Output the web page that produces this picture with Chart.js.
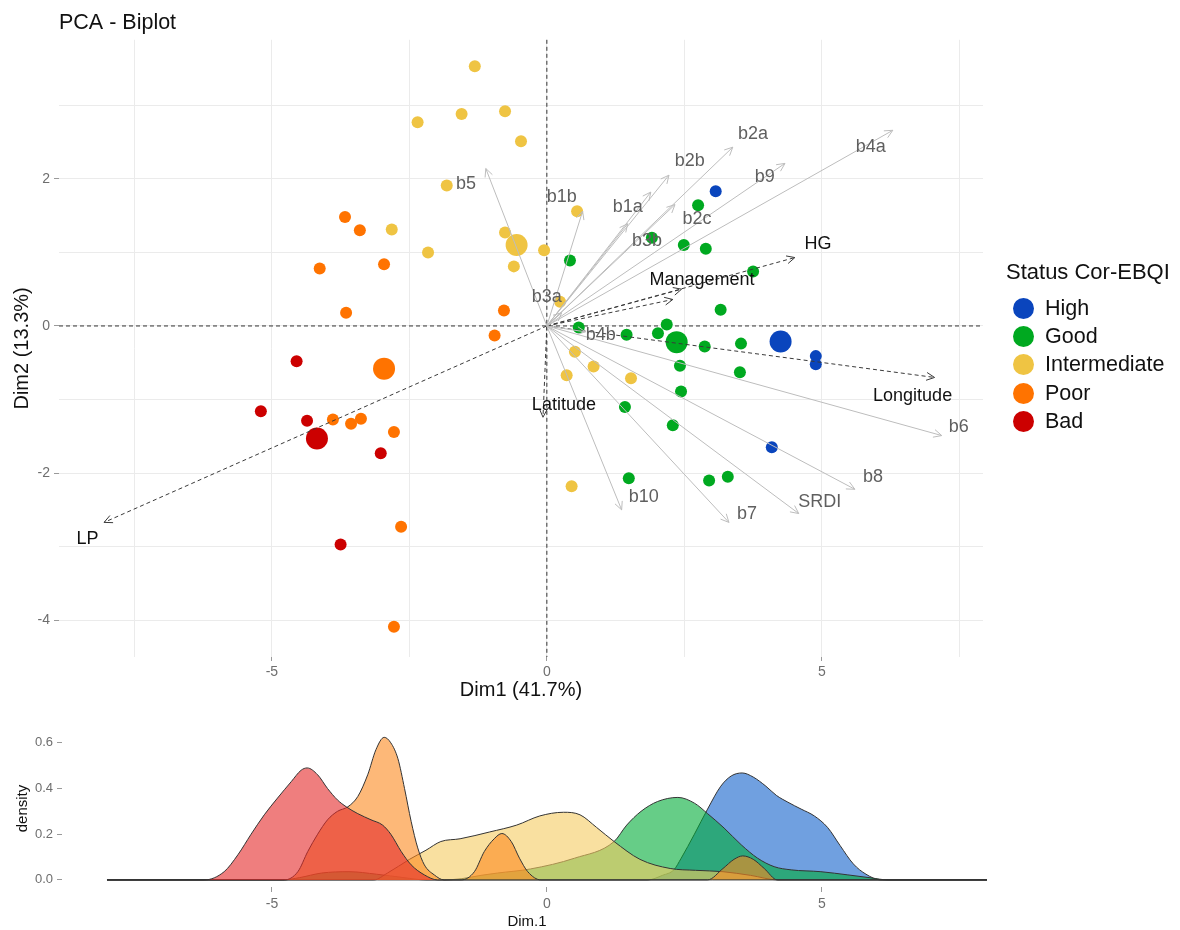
<!DOCTYPE html>
<html>
<head>
<meta charset="utf-8">
<title>PCA - Biplot</title>
<script src="https://cdn.jsdelivr.net/npm/chart.js@4.4.1/dist/chart.umd.min.js"></script>
<style>
  html, body { margin: 0; padding: 0; background: #fff; }
  body { width: 1180px; height: 930px; position: relative; overflow: hidden; font-family: "Liberation Sans", Arial, sans-serif; }
  #biplot { position: absolute; left: 0; top: 0; }
  #density { position: absolute; left: 0; top: 700px; }
  #legend { position: absolute; left: 1006px; top: 258px; color: #111; }
  #legend .ttl { font-size: 22px; line-height: 28px; margin-bottom: 8px; white-space: nowrap; }
  #legend .row { display: flex; align-items: center; height: 28.4px; font-size: 21.5px; white-space: nowrap; }
  #legend .dot { width: 21px; height: 21px; border-radius: 50%; margin: 0 11px 0 7px; }
</style>
</head>
<body>
<canvas id="biplot" width="1180" height="700"></canvas>
<canvas id="density" width="1180" height="230"></canvas>
<div id="legend"></div>
<script>
/* PCA biplot + Dim.1 density strip, redrawn with Chart.js */
const FONT = '"Liberation Sans", Arial, sans-serif';

const statusNames = ['High', 'Good', 'Intermediate', 'Poor', 'Bad'];
const statusColors = ['#0A45BD', '#00A920', '#EFC443', '#FF7300', '#CC0000'];
const densityFills = ['rgba(17,97,203,0.6)', 'rgba(0,171,55,0.6)', 'rgba(245,203,97,0.6)',
                      'rgba(252,137,30,0.6)', 'rgba(228,40,40,0.6)'];

// individuals (Dim1, Dim2)
const highDim1 = [3.07, 4.89, 4.89, 4.09];
const highDim2 = [1.83, -0.41, -0.52, -1.65];
const goodDim1 = [0.42, 2.75, 1.91, 2.49, 2.89, 3.75, 3.16, 0.58, 1.45, 2.18, 2.02,
                  2.87, 3.53, 2.42, 3.51, 2.44, 1.42, 2.29, 1.49, 2.95, 3.29];
const goodDim2 = [0.89, 1.64, 1.20, 1.10, 1.05, 0.74, 0.22, -0.02, -0.12, 0.02, -0.10,
                  -0.28, -0.24, -0.54, -0.63, -0.89, -1.10, -1.35, -2.07, -2.10, -2.05];
const intermediateDim1 = [-1.31, -0.76, -1.55, -2.35, -0.47, -1.82, 0.55, -2.82, -0.76,
                          -2.16, -0.05, -0.60, 0.24, 0.51, 0.36, 0.85, 1.53, 0.45];
const intermediateDim2 = [3.53, 2.92, 2.88, 2.77, 2.51, 1.91, 1.56, 1.31, 1.27,
                          1.00, 1.03, 0.81, 0.33, -0.35, -0.67, -0.55, -0.71, -2.18];
const poorDim1 = [-3.67, -3.40, -4.13, -2.96, -3.65, -0.78, -0.95, -3.89, -3.56, -3.38, -2.78, -2.65, -2.78];
const poorDim2 = [1.48, 1.30, 0.78, 0.84, 0.18, 0.21, -0.13, -1.27, -1.33, -1.26, -1.44, -2.73, -4.09];
const badDim1 = [-4.55, -5.20, -4.36, -3.02, -3.75];
const badDim2 = [-0.48, -1.16, -1.29, -1.73, -2.97];

// group mean points, same order as statusNames
const centroidDim1 = [4.25, 2.36, -0.55, -2.96, -4.18];
const centroidDim2 = [-0.21, -0.22, 1.10, -0.58, -1.53];

// active variables: arrow tips and label anchors
const activeVars = ['b5', 'b1b', 'b1a', 'b2b', 'b2a', 'b9', 'b4a', 'b2c', 'b3b', 'b3a', 'b4b',
                    'b10', 'b7', 'SRDI', 'b8', 'b6'];
const activeDim1 = [-1.11, 0.65, 1.89, 2.22, 3.38, 4.33, 6.29, 2.33, 1.47, 0.27, 0.70,
                    1.36, 3.31, 4.58, 5.60, 7.18];
const activeDim2 = [2.14, 1.56, 1.82, 2.05, 2.43, 2.21, 2.66, 1.65, 1.39, 0.18, -0.08,
                    -2.50, -2.67, -2.55, -2.22, -1.49];
const activeLabelDim1 = [-1.47, 0.27, 1.47, 2.60, 3.75, 3.96, 5.89, 2.73, 1.82, 0.00, 0.98,
                         1.76, 3.64, 4.96, 5.93, 7.49];
const activeLabelDim2 = [1.93, 1.75, 1.61, 2.24, 2.61, 2.02, 2.43, 1.45, 1.15, 0.40, -0.13,
                         -2.32, -2.56, -2.40, -2.06, -1.37];

// supplementary variables (dashed)
const suppVars = ['HG', 'Management', '', 'Longitude', 'Latitude', 'LP'];
const suppDim1 = [4.51, 2.45, 2.29, 7.05, -0.07, -8.05];
const suppDim2 = [0.93, 0.50, 0.36, -0.70, -1.24, -2.67];
const suppLabelDim1 = [4.93, 2.82, 2.82, 6.65, 0.31, -8.35];
const suppLabelDim2 = [1.11, 0.62, 0.62, -0.95, -1.08, -2.90];

const dim1Ticks = [-7.5, -5, -2.5, 0, 2.5, 5, 7.5];
const dim1Labels = [-5, 0, 5];
const dim2Ticks = [-4, -3, -2, -1, 0, 1, 2, 3];
const dim2Labels = [-4, -2, 0, 2];

// density of Dim.1 per status (x, density)
const highDensX = [-8, 1.83, 2.1, 2.31, 2.44, 2.68, 2.92, 3.16, 3.35, 3.55, 3.75, 3.98, 4.17, 4.38, 4.62,
                   4.86, 5.1, 5.33, 5.57, 5.8, 6.07, 8];
const highDens = [0, 0, 0.02, 0.045, 0.095, 0.20, 0.31, 0.41, 0.455, 0.468, 0.45, 0.41, 0.37, 0.34, 0.31,
                  0.28, 0.23, 0.15, 0.07, 0.025, 0, 0];
const goodDensX = [-8, -4.8, -4.5, -4.1, -3.6, -3.1, -2.6, -2.2, -1.9, -1.56, -1.2, -0.9, -0.3, 0.5, 1.22,
                   1.45, 1.71, 2.01, 2.38, 2.68, 2.92, 3.22, 3.53, 3.83, 4.13, 4.44, 4.98, 5.47, 5.89, 6.2, 8];
const goodDens = [0, 0, 0.01, 0.03, 0.036, 0.025, 0.01, 0, 0, 0.005, 0.02, 0.03, 0.048, 0.095, 0.168,
                  0.24, 0.30, 0.343, 0.361, 0.336, 0.29, 0.227, 0.154, 0.095, 0.058, 0.044, 0.036, 0.022, 0.009, 0, 0];
const intermediateDensX = [-8, -3.15, -2.9, -2.5, -2.2, -1.93, -1.58, -1.04, -0.55, -0.13, 0.3, 0.6, 0.9,
                           1.22, 1.69, 2.24, 2.7, 3.2, 3.7, 4.2, 8];
const intermediateDens = [0, 0, 0.03, 0.09, 0.13, 0.168, 0.18, 0.21, 0.24, 0.28, 0.296, 0.285, 0.23,
                          0.168, 0.09, 0.05, 0.042, 0.036, 0.02, 0, 0];
const poorDensX = [-8, -4.78, -4.53, -4.35, -4.17, -3.99, -3.81, -3.62, -3.44, -3.26, -3.11, -2.96, -2.84,
                   -2.71, -2.59, -2.47, -2.35, -2.23, -2.05, -1.87, -1.56, -1.32, -1.14, -0.96, -0.82, -0.65,
                   -0.5, -0.35, -0.11, 2.92, 3.2, 3.4, 3.56, 3.75, 3.95, 4.19, 8];
const poorDens = [0, 0, 0.036, 0.124, 0.2, 0.263, 0.30, 0.32, 0.365, 0.46, 0.57, 0.624, 0.60,
                  0.53, 0.40, 0.256, 0.14, 0.066, 0.022, 0, 0, 0.036, 0.124, 0.18, 0.203, 0.168,
                  0.095, 0.036, 0, 0, 0.05, 0.09, 0.105, 0.09, 0.05, 0, 0];
const badDensX = [-8, -6.23, -5.87, -5.62, -5.38, -5.14, -4.9, -4.65, -4.47, -4.36, -4.17, -3.99, -3.81,
                  -3.65, -3.44, -3.2, -2.99, -2.84, -2.65, -2.47, -2.23, -1.99, 8];
const badDens = [0, 0, 0.036, 0.11, 0.20, 0.285, 0.358, 0.43, 0.48, 0.49, 0.46, 0.40, 0.35,
                 0.32, 0.29, 0.263, 0.24, 0.20, 0.124, 0.066, 0.022, 0, 0];
const densTicks = [0, 0.2, 0.4, 0.6];

function pairs(xs, ys) {
  return xs.map((x, i) => ({ x, y: ys[i] }));
}

/* ---------- legend (html) ---------- */
const legendEl = document.getElementById('legend');
legendEl.innerHTML = '<div class="ttl">Status Cor-EBQI</div>' + statusNames.map((n, i) =>
  `<div class="row"><span class="dot" style="background:${statusColors[i]}"></span>${n}</div>`).join('');

/* ---------- biplot ---------- */
const groupDim1 = [highDim1, goodDim1, intermediateDim1, poorDim1, badDim1];
const groupDim2 = [highDim2, goodDim2, intermediateDim2, poorDim2, badDim2];

const datasets = [];
statusNames.forEach((name, g) => {
  datasets.push({ label: name, data: pairs(groupDim1[g], groupDim2[g]), backgroundColor: statusColors[g],
                  borderWidth: 0, pointRadius: 6, order: 3 });
  datasets.push({ label: name + ' mean', data: [{ x: centroidDim1[g], y: centroidDim2[g] }],
                  backgroundColor: statusColors[g], borderWidth: 0, pointRadius: 11, order: 2 });
});
activeVars.forEach((v, i) => {
  datasets.push({ label: v, data: [{ x: 0, y: 0 }, { x: activeDim1[i], y: activeDim2[i] }], showLine: true,
                  borderColor: '#BDBDBD', borderWidth: 1, pointRadius: 0, arrow: true, order: 1,
                  varLabel: v, labelX: activeLabelDim1[i], labelY: activeLabelDim2[i], labelColor: '#5F5F5F' });
});
suppVars.forEach((v, i) => {
  datasets.push({ label: v || 'Management', data: [{ x: 0, y: 0 }, { x: suppDim1[i], y: suppDim2[i] }], showLine: true,
                  borderColor: '#3A3A3A', borderWidth: 1, borderDash: [4, 3], pointRadius: 0, arrow: true, order: 1,
                  varLabel: v, labelX: suppLabelDim1[i], labelY: suppLabelDim2[i], labelColor: '#111' });
});

const biplotDecor = {
  id: 'biplotDecor',
  beforeDatasetsDraw(chart) {
    const { ctx, chartArea: a, scales: { x, y } } = chart;
    const x0 = x.getPixelForValue(0), y0 = y.getPixelForValue(0);
    ctx.save();
    ctx.strokeStyle = '#333';
    ctx.lineWidth = 1;
    ctx.setLineDash([4, 3]);
    ctx.beginPath();
    ctx.moveTo(x0, a.top); ctx.lineTo(x0, a.bottom);
    ctx.moveTo(a.left, y0); ctx.lineTo(a.right, y0);
    ctx.stroke();
    ctx.restore();
  },
  afterDatasetsDraw(chart) {
    const { ctx, scales: { x, y } } = chart;
    ctx.save();
    ctx.setLineDash([]);
    ctx.lineWidth = 1;
    chart.data.datasets.forEach((ds, i) => {
      if (!ds.arrow) return;
      const [p0, p1] = chart.getDatasetMeta(i).data;
      const ang = Math.atan2(p1.y - p0.y, p1.x - p0.x);
      ctx.strokeStyle = ds.borderColor;
      ctx.beginPath();
      [-0.45, 0.45].forEach(d => {
        ctx.moveTo(p1.x, p1.y);
        ctx.lineTo(p1.x - 9 * Math.cos(ang + d), p1.y - 9 * Math.sin(ang + d));
      });
      ctx.stroke();
    });
    ctx.font = `18px ${FONT}`;
    ctx.textAlign = 'center';
    ctx.textBaseline = 'middle';
    chart.data.datasets.forEach(ds => {
      if (!ds.arrow || !ds.varLabel) return;
      ctx.fillStyle = ds.labelColor;
      ctx.fillText(ds.varLabel, x.getPixelForValue(ds.labelX), y.getPixelForValue(ds.labelY));
    });
    ctx.restore();
  }
};

new Chart(document.getElementById('biplot'), {
  type: 'scatter',
  data: { datasets },
  plugins: [biplotDecor],
  options: {
    responsive: false,
    animation: false,
    events: [],
    layout: { autoPadding: false, padding: { left: 0, right: 197, top: 0, bottom: 0 } },
    plugins: {
      legend: { display: false },
      tooltip: { enabled: false },
      title: { display: true, text: 'PCA - Biplot', align: 'start', fullSize: false, color: '#111',
               font: { family: FONT, size: 21.5, weight: 'normal' }, padding: { top: 10, bottom: 4 } },
    },
    scales: {
      x: {
        type: 'linear', min: -8.87, max: 7.93,
        afterBuildTicks: s => { s.ticks = dim1Ticks.map(v => ({ value: v })); },
        afterFit: s => { s.height = 43; },
        border: { display: false },
        grid: { color: '#EBEBEB', lineWidth: 1, tickLength: 4,
                tickColor: c => (c.tick && dim1Labels.includes(c.tick.value)) ? '#9A9A9A' : 'rgba(0,0,0,0)' },
        ticks: { padding: 3, color: '#6E6E6E', font: { family: FONT, size: 14 }, maxRotation: 0, autoSkip: false,
                 callback: v => dim1Labels.includes(v) ? String(v) : '' },
        title: { display: true, text: 'Dim1 (41.7%)', color: '#111', padding: 0,
                 font: { family: FONT, size: 20, lineHeight: 1 } },
      },
      y: {
        type: 'linear', min: -4.5, max: 3.89,
        afterBuildTicks: s => { s.ticks = dim2Ticks.map(v => ({ value: v })); },
        afterFit: s => { s.width = 59; },
        border: { display: false },
        grid: { color: '#EBEBEB', lineWidth: 1, tickLength: 5,
                tickColor: c => (c.tick && dim2Labels.includes(c.tick.value)) ? '#9A9A9A' : 'rgba(0,0,0,0)' },
        ticks: { padding: 4, color: '#6E6E6E', font: { family: FONT, size: 14 }, autoSkip: false,
                 callback: v => dim2Labels.includes(v) ? String(v) : '' },
        title: { display: true, text: 'Dim2 (13.3%)', color: '#111', padding: { top: 10 },
                 font: { family: FONT, size: 20 } },
      },
    },
  },
});

/* ---------- density strip ---------- */
const densX = [highDensX, goodDensX, intermediateDensX, poorDensX, badDensX];
const densY = [highDens, goodDens, intermediateDens, poorDens, badDens];

new Chart(document.getElementById('density'), {
  type: 'line',
  data: {
    datasets: statusNames.map((name, g) => ({
      label: name,
      data: pairs(densX[g], densY[g]),
      fill: 'origin',
      backgroundColor: densityFills[g],
      borderColor: '#333',
      borderWidth: 1,
      pointRadius: 0,
      cubicInterpolationMode: 'monotone',
      order: statusNames.length - g,
    })),
  },
  options: {
    responsive: false,
    animation: false,
    events: [],
    layout: { autoPadding: false, padding: { left: 0, right: 188, top: 30, bottom: 0 } },
    plugins: { legend: { display: false }, tooltip: { enabled: false } },
    scales: {
      x: {
        type: 'linear', min: -8.818, max: 8.091,
        afterBuildTicks: s => { s.ticks = dim1Labels.map(v => ({ value: v })); },
        afterFit: s => { s.height = 43; },
        border: { display: false },
        grid: { drawOnChartArea: false, tickLength: 5, tickColor: '#9A9A9A' },
        ticks: { padding: 4, color: '#6E6E6E', font: { family: FONT, size: 14 }, maxRotation: 0 },
        title: { display: true, text: 'Dim.1', color: '#111', padding: { bottom: 1 },
                 font: { family: FONT, size: 15, lineHeight: 1 } },
      },
      y: {
        type: 'linear', min: -0.031, max: 0.656,
        afterBuildTicks: s => { s.ticks = densTicks.map(v => ({ value: v })); },
        afterFit: s => { s.width = 62; },
        border: { display: false },
        grid: { drawOnChartArea: false, tickLength: 5, tickColor: '#9A9A9A' },
        ticks: { padding: 4, color: '#6E6E6E', font: { family: FONT, size: 13 }, callback: v => v.toFixed(1) },
        title: { display: true, text: 'density', color: '#111', padding: { top: 14 },
                 font: { family: FONT, size: 15 } },
      },
    },
  },
});
</script>
</body>
</html>
